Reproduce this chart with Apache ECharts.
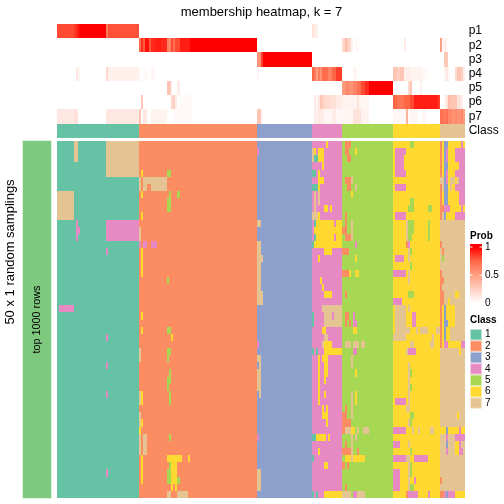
<!DOCTYPE html>
<html><head><meta charset="utf-8">
<style>html,body{margin:0;padding:0;background:#fff}#c{width:504px;height:504px}</style>
<script src="https://cdn.jsdelivr.net/npm/echarts@6/dist/echarts.min.js"></script>
</head><body><div id="c"></div>
<script>
const classSizes = [40, 58, 27, 15, 25, 23, 12];
const classColors = ['#66C2A5', '#FC8D62', '#8DA0CB', '#E78AC3', '#A6D854', '#FFD92F', '#E5C494'];
const classLabels = ['1', '2', '3', '4', '5', '6', '7'];
const probNames = ['p1', 'p2', 'p3', 'p4', 'p5', 'p6', 'p7'];
const rowCount = 50;
const probStops = ['#FFFFFF', '#FFCFC1', '#FF9E81', '#FF6646', '#FF0000'];
const probTicks = ['1', '0.5', '0'];
const titleText = 'membership heatmap, k = 7';
const sideTitle = '50 x 1 random samplings';
const rowsLabel = 'top 1000 rows';

// probability runs: [colFrom, colTo, value]
const p1Runs = [[0,7,.82],[8,8,.86],[9,9,.9],[10,10,.96],[11,23,1],[24,24,.66],[25,39,.8],[125,125,.15],[126,126,.1],[127,127,.08]];
const p2Runs = [[40,40,.72],[41,41,.88],[42,42,.78],[43,44,.96],[45,45,.78],[46,47,.9],[48,50,.93],[51,53,.9],[54,55,.62],[56,56,.82],[57,57,.7],[58,59,.82],[60,64,.93],[65,97,1],[140,140,.2],[141,141,.35],[142,142,.25],[143,143,.2],[144,144,.08],[146,147,.03],[170,170,.1],[188,188,.5],[189,189,.04],[190,190,.1],[191,191,.03]];
const p3Runs = [[98,99,.55],[100,100,.85],[101,124,1],[190,191,.28]];
const p4Runs = [[9,9,.12],[10,10,.05],[24,24,.2],[25,39,.08],[40,40,.02],[42,43,.03],[46,47,.04],[98,98,.05],[125,125,.75],[126,126,.65],[127,127,.5],[128,128,.65],[129,129,.55],[130,132,.72],[133,134,.62],[135,136,.75],[137,139,.85],[145,146,.05],[165,166,.3],[167,167,.25],[168,169,.3],[170,170,.08],[171,172,.1],[173,178,.06],[179,181,.03],[190,190,.06],[191,191,.12],[192,192,.03],[195,195,.2],[196,197,.3],[198,198,.25],[199,199,.1]];
const p5Runs = [[54,55,.3],[56,56,.03],[59,59,.1],[140,140,.5],[141,142,.6],[143,144,.55],[145,146,.62],[147,148,.7],[149,150,.82],[151,152,.9],[153,164,1],[172,172,.2],[173,173,.3],[178,178,.08]];
const p6Runs = [[41,41,.3],[56,56,.2],[57,57,.25],[58,58,.1],[60,65,.03],[126,126,.1],[127,127,.05],[128,128,.12],[129,129,.3],[130,130,.25],[131,133,.2],[134,136,.16],[137,139,.1],[140,146,.06],[147,147,.15],[148,152,.05],[165,166,.75],[167,169,.68],[170,172,.75],[173,174,.82],[175,186,.93],[187,187,.85],[190,190,.05],[191,191,.15],[192,192,.35],[193,195,.3],[196,197,.15],[198,198,.08]];
const p7Runs = [[0,7,.12],[8,9,.15],[24,39,.12],[40,40,.3],[41,41,.02],[42,43,.12],[46,53,.06],[57,65,.03],[98,99,.3],[100,100,.05],[126,126,.1],[127,127,.08],[128,128,.12],[129,130,.1],[131,134,.05],[135,136,.1],[137,139,.04],[140,144,.05],[145,148,.15],[149,152,.07],[165,170,.04],[171,171,.4],[172,172,.02],[173,176,.05],[179,180,.05],[188,189,.7],[190,190,.65],[191,191,.7],[192,193,.6],[194,194,.55],[195,195,.6],[196,197,.55],[198,198,.6],[199,199,.5]];
const probRuns = [p1Runs, p2Runs, p3Runs, p4Runs, p5Runs, p6Runs, p7Runs];

// class changes per sampling: [class, rowFrom, rowTo, colFrom, colTo]
const changesBlock1 = [[7,0,2,8,9],[7,0,4,24,39],[7,7,10,0,7],[4,11,13,9,9],[4,12,12,10,10],[4,11,13,24,39],[4,15,15,24,24],[4,23,23,1,7],[4,27,27,24,24],[4,31,31,24,24],[4,35,35,24,24],[4,46,46,24,24]];
const changesBlock2 = [[6,4,4,41,41],[5,4,4,54,55],[7,5,6,40,40],[7,5,5,42,53],[7,6,6,42,43],[7,6,6,46,53],[6,7,7,41,41],[5,7,7,55,55],[5,7,7,59,59],[5,8,9,54,55],[6,10,10,41,41],[7,12,13,40,40],[4,14,14,40,40],[4,14,14,42,43],[4,14,14,46,48],[6,15,18,41,41],[5,19,19,54,54],[6,24,24,41,41],[6,26,26,41,41],[5,26,26,54,55],[6,27,27,56,56],[7,29,30,40,40],[5,29,29,54,55],[5,30,30,54,54],[5,32,32,55,55],[5,33,33,54,55],[5,34,34,54,54],[7,35,36,40,40],[6,35,36,41,41],[5,35,36,55,55],[7,38,39,40,40],[6,39,39,41,41],[6,40,40,40,40],[7,41,43,40,40],[7,41,43,42,43],[5,41,41,55,55],[6,44,47,41,41],[6,44,44,54,60],[6,44,44,64,64],[5,45,45,55,55],[6,45,47,56,58],[5,46,47,54,55],[5,47,47,59,59],[6,48,48,56,56],[6,48,48,58,58],[7,49,49,54,55],[7,49,49,59,63]];
const changesBlock3 = [[4,1,1,98,98],[7,11,11,98,99],[7,14,15,98,99],[7,16,16,98,100],[7,17,20,98,99],[7,21,22,98,100],[4,28,28,98,98],[7,30,30,98,99],[7,31,31,99,99],[7,32,34,98,99],[7,35,35,99,99],[4,41,41,98,98],[7,46,48,98,99]];
const changesBlock4 = [[6,0,0,132,132],[7,1,2,125,125],[6,1,1,126,126],[6,1,2,128,130],[1,2,2,126,127],[6,3,3,130,130],[1,4,4,125,126],[6,4,4,128,128],[6,5,5,128,130],[1,6,6,125,127],[6,6,6,128,128],[7,7,9,126,126],[7,7,8,128,128],[6,9,9,131,132],[6,9,9,134,134],[7,10,10,125,127],[6,10,10,128,128],[1,11,11,126,126],[6,11,11,127,135],[4,11,11,136,136],[6,11,11,137,139],[6,12,12,126,139],[1,13,13,126,126],[6,13,13,127,135],[4,13,13,136,136],[6,13,13,137,139],[1,14,14,125,125],[6,14,14,126,139],[6,15,15,131,134],[6,16,16,128,128],[6,19,19,129,129],[6,20,20,130,130],[6,21,21,131,134],[7,23,23,130,139],[1,24,25,125,125],[7,24,24,131,134],[4,24,24,135,135],[7,24,24,136,139],[7,25,25,131,139],[6,26,26,130,131],[7,27,27,131,132],[7,28,28,130,130],[6,28,28,131,134],[1,29,29,125,125],[1,29,29,127,127],[6,29,29,131,139],[6,30,30,128,128],[6,30,30,130,132],[6,31,32,128,128],[6,31,32,131,132],[6,33,36,128,128],[6,33,33,131,131],[6,35,35,131,131],[6,37,37,130,130],[6,37,37,132,132],[6,38,38,130,132],[6,39,39,132,132],[1,41,41,125,126],[6,41,41,127,131],[6,41,41,133,133],[6,43,43,128,128],[1,44,44,125,125],[6,45,45,131,132],[1,49,49,125,125],[1,49,49,127,127],[6,49,49,131,139]];
const changesBlock5 = [[2,0,0,141,143],[2,1,1,141,142],[6,1,1,146,146],[2,2,2,142,143],[2,5,5,141,143],[7,5,5,144,144],[2,6,6,142,143],[7,6,6,146,146],[6,7,7,144,144],[2,10,11,141,141],[7,11,13,144,144],[2,12,12,140,141],[2,13,13,141,143],[4,14,14,146,146],[2,15,15,140,142],[6,16,16,146,146],[2,18,18,140,142],[6,18,18,143,143],[6,18,18,146,147],[2,21,21,141,141],[2,24,24,141,142],[4,24,24,145,145],[2,25,25,141,141],[2,25,25,143,143],[4,25,25,145,146],[6,26,26,145,146],[7,28,28,141,143],[7,28,28,145,147],[7,28,28,149,150],[4,29,29,145,146],[7,30,31,144,144],[6,32,32,146,146],[7,35,38,144,144],[6,35,36,146,146],[2,37,37,141,141],[2,38,38,140,141],[2,39,39,140,143],[2,40,40,140,140],[7,40,40,141,143],[6,40,40,144,145],[7,40,40,147,147],[7,40,40,150,152],[7,41,43,144,144],[7,41,41,146,146],[2,42,42,141,141],[2,43,43,140,143],[2,43,43,147,147],[6,44,44,141,143],[7,44,44,144,144],[6,44,44,145,150],[2,45,45,140,140],[2,45,45,142,142],[2,48,48,141,141],[7,49,49,140,143],[4,49,49,145,146],[7,49,49,147,150]];
const changesBlock6 = [[5,0,0,173,174],[4,1,1,166,170],[4,2,3,166,169],[4,4,4,166,170],[4,6,6,166,170],[5,8,8,173,174],[5,9,9,172,174],[5,9,9,182,183],[4,10,10,166,170],[7,11,13,171,171],[5,11,12,172,174],[5,13,13,172,173],[5,11,13,182,182],[2,14,14,171,171],[4,14,14,172,172],[7,15,16,172,172],[5,15,15,173,173],[4,16,16,166,169],[5,17,17,173,173],[4,18,18,165,170],[7,18,19,172,172],[5,21,21,172,174],[4,22,22,165,168],[7,23,25,166,170],[7,23,23,172,172],[4,24,25,174,175],[7,26,26,166,172],[7,26,26,176,176],[7,26,26,178,181],[7,26,26,186,187],[7,27,27,165,170],[7,27,27,184,184],[7,28,28,173,174],[7,28,28,183,184],[7,29,29,171,171],[4,29,29,172,175],[7,31,37,172,172],[5,32,32,173,173],[5,34,34,173,173],[4,36,36,166,170],[7,37,37,171,171],[5,38,38,173,174],[7,39,39,172,172],[5,39,39,173,173],[4,40,40,165,170],[7,40,40,174,174],[7,40,40,177,177],[7,40,40,183,184],[4,42,42,165,167],[7,42,42,172,172],[5,43,43,173,173],[4,44,44,165,170],[7,44,44,171,172],[4,44,44,175,181],[7,45,48,172,172],[5,45,46,173,173],[4,46,48,165,167],[4,47,47,175,175],[5,48,48,173,174],[2,49,49,171,171],[4,49,49,172,176],[4,49,49,182,182]];
const changesBlock7 = [[6,0,10,188,199],[2,0,4,188,188],[3,0,0,190,191],[4,0,0,198,198],[3,1,2,190,190],[4,1,2,191,191],[4,1,2,195,199],[3,3,3,190,191],[4,3,3,197,199],[3,4,4,190,190],[4,4,4,191,191],[4,4,4,195,199],[7,5,5,188,189],[3,5,5,190,190],[4,5,5,191,191],[7,5,5,193,194],[7,5,5,196,196],[4,5,5,197,199],[2,6,6,188,188],[7,6,6,189,189],[3,6,6,190,191],[7,6,6,193,193],[4,6,6,195,199],[2,7,8,188,188],[3,7,8,190,191],[4,7,8,197,199],[2,9,9,188,189],[4,9,9,190,192],[4,9,9,198,198],[2,10,10,188,188],[7,10,10,189,189],[3,10,10,190,190],[4,10,10,195,199],[2,14,14,188,188],[2,15,15,189,189],[5,16,16,189,189],[2,18,18,188,188],[2,19,19,188,189],[2,20,20,188,188],[2,21,22,188,189],[6,21,21,195,196],[6,22,22,192,192],[6,23,28,188,194],[2,23,27,188,188],[3,23,24,190,190],[3,25,25,190,191],[3,26,27,190,190],[7,26,27,193,199],[6,28,28,195,197],[2,28,28,188,188],[4,28,28,190,191],[4,28,28,198,199],[6,29,29,197,197],[6,38,38,196,196],[6,40,40,188,199],[3,40,40,191,191],[4,40,40,197,197],[4,41,41,191,191],[4,41,41,195,199],[3,42,42,191,191],[6,42,43,195,196],[4,42,42,197,197],[4,43,43,191,191],[4,43,43,197,198],[2,47,47,188,188],[2,49,49,188,189],[4,49,49,190,190],[3,49,49,191,191],[4,49,49,192,194],[6,49,49,195,199]];
const allChanges = [changesBlock1, changesBlock2, changesBlock3, changesBlock4, changesBlock5, changesBlock6, changesBlock7];

const columnClass = [];
classSizes.forEach((n, i) => { for (let k = 0; k < n; k++) columnClass.push(i + 1); });
const colCount = columnClass.length;
const colAxis = columnClass.map((_, i) => String(i));
const rowAxis = Array.from({length: rowCount}, (_, i) => String(i));

const matrix = rowAxis.map(() => columnClass.slice());
allChanges.forEach(list => list.forEach(([cl, r0, r1, c0, c1]) => {
  for (let r = r0; r <= r1; r++) for (let c = c0; c <= c1; c++) matrix[r][c] = cl;
}));
const mainData = [];
matrix.forEach((row, r) => row.forEach((v, c) => mainData.push([c, r, v])));
const classRowData = columnClass.map((v, c) => [c, 0, v]);
const probData = [];
probRuns.forEach((runs, r) => {
  const row = new Array(colCount).fill(0);
  runs.forEach(([a, b, v]) => { for (let c = a; c <= b; c++) row[c] = v; });
  row.forEach((v, c) => probData.push([c, r, v]));
});

const font = '"Liberation Sans", Arial, sans-serif';
const hiddenAxis = {axisLine:{show:false}, axisTick:{show:false}, axisLabel:{show:false}, splitLine:{show:false}, splitArea:{show:false}};
const sideAxis = {...hiddenAxis, position:'right', axisLabel:{show:true, interval:0, margin:4, padding:[5,0,0,0], color:'#000', fontFamily:font, fontSize:12}};

// cells snap to whole pixels through the axis scales, so neighbours leave no seams
function drawCell(params, api) {
  const p = api.coord([api.value(0), api.value(1)]);
  const s = api.size([1, 1]);
  const x0 = Math.round(p[0] - s[0] / 2), x1 = Math.round(p[0] + s[0] / 2);
  const y0 = Math.round(p[1] - s[1] / 2), y1 = Math.round(p[1] + s[1] / 2);
  return {type:'rect', shape:{x:x0, y:y0, width:x1 - x0, height:y1 - y0}, style:{fill:api.visual('color')}};
}
const cells = (x, y, data) => ({type:'custom', xAxisIndex:x, yAxisIndex:y, data, renderItem:drawCell, silent:true, progressive:0,
  encode:{x:0, y:1}, clip:false});

// legend pieces
const barX = 470, barW = 12, barTop = 244, barBottom = 303, tickTop = 247;
const barSpan = barBottom - barTop, scaleSpan = barBottom - tickTop;
const barStops = probStops.map((c, i) => ({offset:(tickTop - barTop + scaleSpan * (1 - i / (probStops.length - 1))) / barSpan, color:c})).reverse();
const legendGraphics = [
  {type:'text', silent:true, style:{x:470, y:236, verticalAlign:'middle', text:'Prob', fontFamily:font, fontSize:10, fontWeight:'bold', fill:'#000'}},
  {type:'text', silent:true, style:{x:470, y:320, verticalAlign:'middle', text:'Class', fontFamily:font, fontSize:10, fontWeight:'bold', fill:'#000'}},
  {type:'rect', silent:true, shape:{x:barX, y:barTop, width:barW, height:barSpan},
   style:{fill:new echarts.graphic.LinearGradient(0, 0, 0, 1, [{offset:0, color:'#FF0000'}].concat(barStops))}}
];
probTicks.forEach((t, i) => {
  const y = tickTop + scaleSpan * i / 2;
  legendGraphics.push({type:'text', silent:true, style:{x:485, y, verticalAlign:'middle', text:t, fontFamily:font, fontSize:10, fill:'#000'}});
  if (i < 2) {
    legendGraphics.push({type:'rect', silent:true, z:100, shape:{x:barX, y:y - 0.5, width:2.5, height:1}, style:{fill:'#fff'}});
    legendGraphics.push({type:'rect', silent:true, z:100, shape:{x:barX + barW - 2.5, y:y - 0.5, width:2.5, height:1}, style:{fill:'#fff'}});
  }
});
classLabels.forEach((t, i) => {
  const top = 329 + i * 11.4;
  legendGraphics.push({type:'rect', silent:true, shape:{x:470, y:top, width:12, height:11.4}, style:{fill:classColors[i], opacity:0.45}});
  legendGraphics.push({type:'rect', silent:true, shape:{x:471, y:top + 1, width:10, height:9.4}, style:{fill:classColors[i]}});
  legendGraphics.push({type:'text', silent:true, style:{x:485, y:top + 5.7, verticalAlign:'middle', text:t, fontFamily:font, fontSize:10, fill:'#000'}});
});

const chart = echarts.init(document.getElementById('c'), null, {renderer:'canvas'});
chart.setOption({
  animation:false,
  backgroundColor:'#fff',
  title:{text:titleText, left:256.5, top:1, textAlign:'center', textStyle:{fontFamily:font, fontSize:13, fontWeight:'normal', color:'#000'}},
  grid:[
    {left:57.3, top:24, width:407.4, height:99.5},
    {left:57.3, top:124, width:407.4, height:14},
    {left:57.3, top:141, width:407.4, height:357},
    {left:23, top:141, width:28, height:357}
  ],
  xAxis:[
    {type:'category', gridIndex:0, data:colAxis, ...hiddenAxis},
    {type:'category', gridIndex:1, data:colAxis, ...hiddenAxis},
    {type:'category', gridIndex:2, data:colAxis, ...hiddenAxis},
    {type:'category', gridIndex:3, data:['bar'], ...hiddenAxis}
  ],
  yAxis:[
    {type:'category', gridIndex:0, inverse:true, data:probNames, ...sideAxis},
    {type:'category', gridIndex:1, data:['Class'], ...sideAxis},
    {type:'category', gridIndex:2, inverse:true, data:rowAxis, ...hiddenAxis},
    {type:'category', gridIndex:3, data:['bar'], ...hiddenAxis}
  ],
  visualMap:[
    {type:'continuous', show:false, seriesIndex:0, dimension:2, min:0, max:1, inRange:{color:probStops}},
    {type:'piecewise', show:false, seriesIndex:[1,2], dimension:2,
     pieces:classLabels.map((l, i) => ({value:i + 1, label:l, color:classColors[i]}))}
  ],
  series:[
    cells(0, 0, probData),
    cells(1, 1, classRowData),
    cells(2, 2, mainData),
    {type:'heatmap', xAxisIndex:3, yAxisIndex:3, data:[[0, 0, 1]], silent:true, itemStyle:{color:'#7FC97F'},
     label:{show:true, rotate:90, formatter:rowsLabel, fontFamily:font, fontSize:10.8, color:'#000'}}
  ],
  graphic:[
    {type:'text', silent:true, rotation:Math.PI / 2, x:10, y:252,
     style:{x:0, y:0, align:'center', verticalAlign:'middle', text:sideTitle, fontFamily:font, fontSize:13, fill:'#000'}}
  ].concat(legendGraphics)
});
</script></body></html>
